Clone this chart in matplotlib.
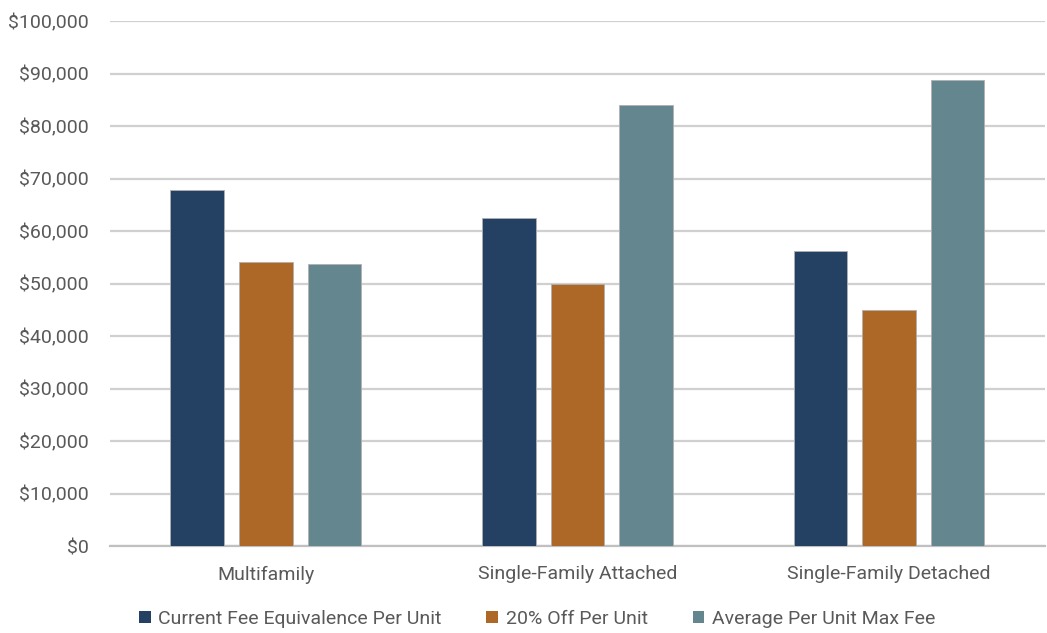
import matplotlib
matplotlib.use("Agg")
import matplotlib.pyplot as plt
import numpy as np
from matplotlib.ticker import FuncFormatter, MultipleLocator
from matplotlib.patches import Patch

plt.rcParams['font.family'] = ['Roboto', 'DejaVu Sans']

categories = ["Multifamily", "Single-Family Attached", "Single-Family Detached"]
series_names = ["Current Fee Equivalence Per Unit", "20% Off Per Unit", "Average Per Unit Max Fee"]
current_fee = [67800, 62500, 56200]
twenty_off = [54100, 50000, 45000]
avg_max_fee = [53700, 84000, 88800]
colors = ["#244062", "#AD6727", "#63868F"]

fig = plt.figure(figsize=(10.47, 6.33), dpi=100)
ax = fig.add_axes([0.105, 0.1374, 0.893, 0.8294])

x = np.arange(len(categories))
width = 0.172
offsets = [-0.22, 0.0, 0.22]
for vals, off, c in zip([current_fee, twenty_off, avg_max_fee], offsets, colors):
    ax.bar(x + off, vals, width, color=c, edgecolor="#b0b0b0", linewidth=0.6, zorder=3)

ax.set_xlim(-0.5, 2.5)
ax.set_ylim(0, 100000)
ax.yaxis.set_major_locator(MultipleLocator(10000))
ax.yaxis.set_major_formatter(FuncFormatter(lambda v, p: f"${v:,.0f}"))
ax.grid(axis="y", color="#d0d0d0", linewidth=1.6, zorder=0)
ax.set_axisbelow(True)
for s in ["top", "right", "left"]:
    ax.spines[s].set_visible(False)
ax.spines["bottom"].set_color("#c0c0c0")
ax.spines["bottom"].set_linewidth(1.6)
ax.tick_params(axis="both", length=0, labelsize=14, labelcolor="#595959")
ax.tick_params(axis="y", pad=15)
ax.tick_params(axis="x", pad=14)
ax.set_xticks(x)
ax.set_xticklabels(categories)

handles = [Patch(facecolor=c, edgecolor="none") for c in colors]
fig.legend(handles, series_names, loc="center", bbox_to_anchor=(0.513, 0.022),
           ncol=3, frameon=False, fontsize=14, labelcolor="#595959",
           handlelength=0.6, handleheight=0.6, handletextpad=0.4, columnspacing=2.3)

fig.savefig("out.png", dpi=100)
